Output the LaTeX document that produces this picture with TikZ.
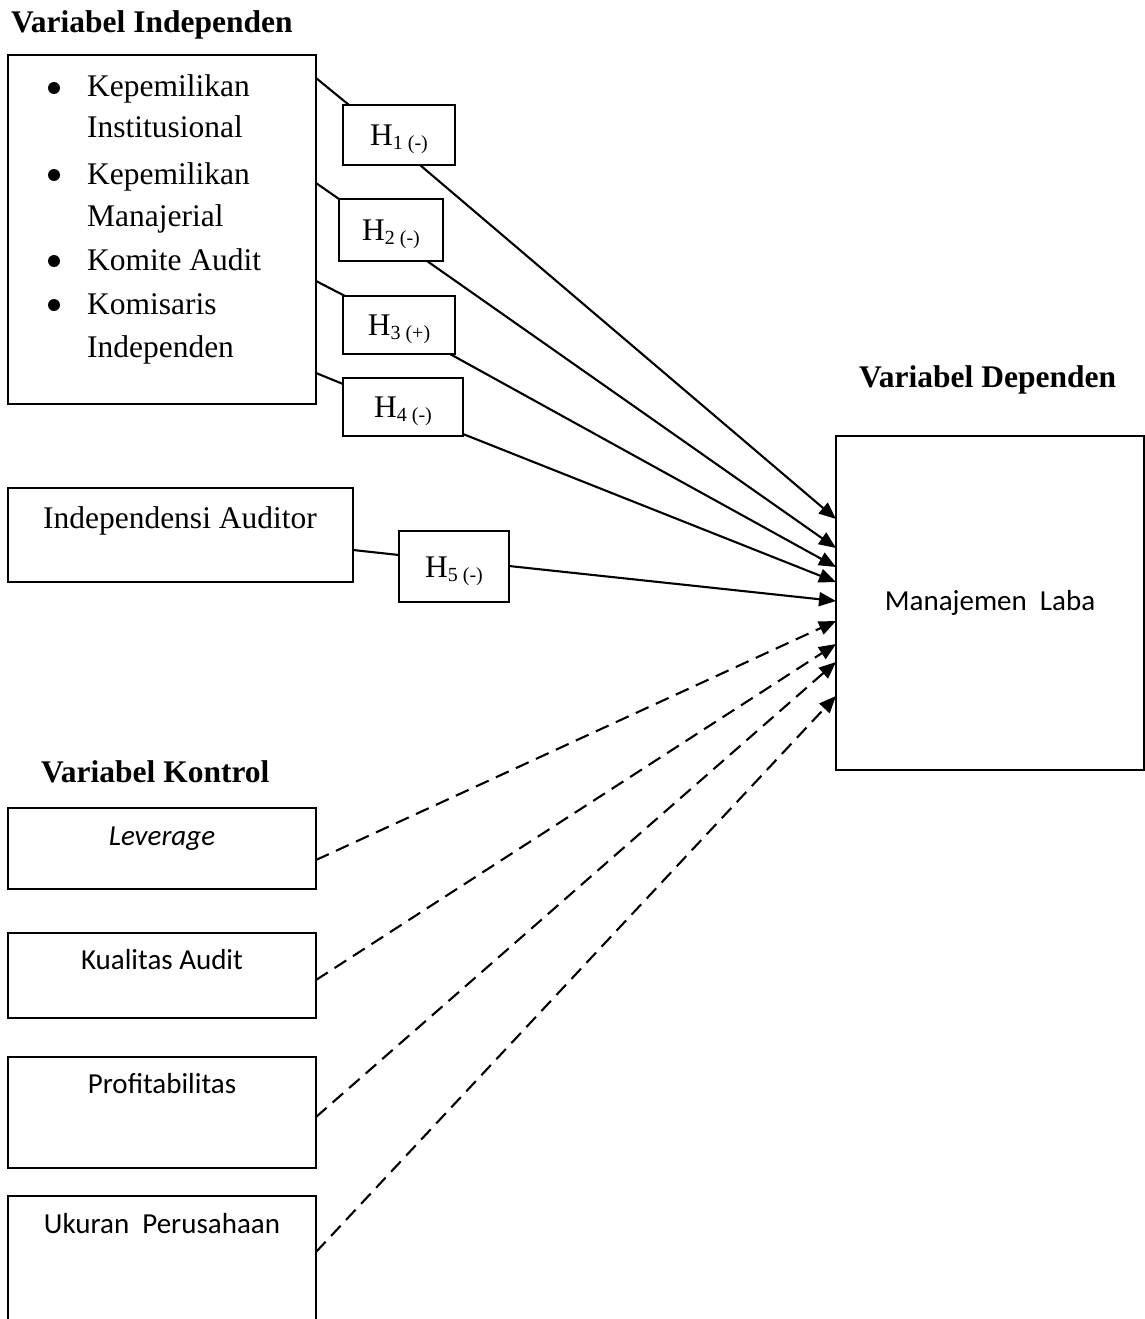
\documentclass[tikz,border=0pt]{standalone}
\usepackage{fontspec}
\setmainfont{Liberation Serif}
\newfontfamily\calibrifont{Carlito}
\usetikzlibrary{arrows.meta,calc}
\newcommand{\hsub}[1]{\smash{\raisebox{-4pt}{\fontsize{20}{20}\selectfont #1}}}
\begin{document}
\begin{tikzpicture}[x=1pt,y=-1pt, line width=2.1pt,
  box/.style={draw, rectangle, inner sep=0pt, outer sep=0pt},
  ttl/.style={font=\fontsize{31.5}{31.5}\selectfont\bfseries, anchor=base west, inner sep=0pt},
  tms/.style={font=\fontsize{31.5}{31.5}\selectfont, anchor=base west, inner sep=0pt},
  cal/.style={font=\calibrifont\fontsize{29}{29}\selectfont, anchor=base, inner sep=0pt},
  hbox/.style={box, font=\fontsize{31.5}{31.5}\selectfont, text height=21pt, text depth=0pt},
  arr/.style={-{Triangle[length=17pt,width=14pt]}},
  dsh/.style={arr, dash pattern=on 14pt off 8pt}]
\useasboundingbox (0,0) rectangle (1145,1319);
% titles
\node[ttl] (t1) at (10,33) {Variabel Independen};
\node[ttl] (t2) at (858,387) {Variabel Dependen};
\node[ttl] (t3) at (40,782) {Variabel Kontrol};
% independent box
\node[box, minimum width=308pt, minimum height=349pt] (indep) at (162,229.5) {};
\fill (54,88) circle (6pt);
\fill (54,175) circle (6pt);
\fill (54,261) circle (6pt);
\fill (54,305) circle (6pt);
\node[tms] (l1) at (86,97) {Kepemilikan};
\node[tms] (l2) at (86,138) {Institusional};
\node[tms] (l3) at (86,184) {Kepemilikan};
\node[tms] (l4) at (86,226) {Manajerial};
\node[tms] (l5) at (86,270) {Komite Audit};
\node[tms] (l6) at (86,314) {Komisaris};
\node[tms] (l7) at (86,357) {Independen};
% auditor box
\node[box, minimum width=345pt, minimum height=94pt] (ia) at (180.5,535) {};
\node[tms] (iat) at (42,528) {Independensi Auditor};
% H boxes
\node[hbox, minimum width=112pt, minimum height=60pt] (h1) at (399,135) {H\hsub{1 (-)}};
\node[hbox, minimum width=104pt, minimum height=62pt] (h2) at (391,230) {H\hsub{2 (-)}};
\node[hbox, minimum width=112pt, minimum height=58pt] (h3) at (399,325) {H\hsub{3 (+)}};
\node[hbox, minimum width=120pt, minimum height=58pt] (h4) at (403,407) {H\hsub{4 (-)}};
\node[hbox, minimum width=110pt, minimum height=71pt] (h5) at (454,566.5) {H\hsub{5 (-)}};
% dependent box
\node[box, minimum width=308pt, minimum height=334pt] (ml) at (990,603) {};
\node[cal] (mlt) at (990,610) {Manajemen~~Laba};
% control boxes
\node[box, minimum width=308pt, minimum height=81pt] (lev) at (162,848.5) {};
\node[cal] (levt) at (162,845) {\itshape Leverage};
\node[box, minimum width=308pt, minimum height=85pt] (kual) at (162,975.5) {};
\node[cal] (kualt) at (162,969) {Kualitas Audit};
\node[box, minimum width=308pt, minimum height=111pt] (prof) at (162,1112.5) {};
\node[cal] (proft) at (162,1093) {Profitabilitas};
\node[box, minimum width=308pt, minimum height=144pt] (uk) at (162,1268) {};
\node[cal] (ukt) at (162,1233) {Ukuran~~Perusahaan};
% solid connectors
\draw ($(indep.north east)+(0,23)$) -- ($(h1.north west)+(6,0)$);
\draw[arr] ($(h1.south west)+(77,0)$) -- ($(ml.north west)+(0,83)$);
\draw ($(indep.north east)+(0,128)$) -- (h2.north west);
\draw[arr] ($(h2.south west)+(88,0)$) -- ($(ml.north west)+(0,112)$);
\draw ($(indep.north east)+(0,226)$) -- ($(h3.north west)+(2,0)$);
\draw[arr] ($(h3.south west)+(107,0)$) -- ($(ml.north west)+(0,131)$);
\draw ($(indep.north east)+(0,318)$) -- ($(h4.north west)+(0,6)$);
\draw[arr] ($(h4.south east)+(0,-2)$) -- ($(ml.north west)+(0,146)$);
\draw ($(ia.north east)+(0,62)$) -- ($(h5.north west)+(0,24)$);
\draw[arr] ($(h5.north east)+(0,35)$) -- ($(ml.north west)+(0,165)$);
% dashed connectors
\draw[dsh] ($(lev.north east)+(0,52)$) -- ($(ml.north west)+(0,185)$);
\draw[dsh] ($(kual.north east)+(0,47)$) -- ($(ml.north west)+(0,208)$);
\draw[dsh] ($(prof.north east)+(0,60)$) -- ($(ml.north west)+(0,226)$);
\draw[dsh] ($(uk.north east)+(0,56)$) -- ($(ml.north west)+(0,260)$);
\end{tikzpicture}
\end{document}
